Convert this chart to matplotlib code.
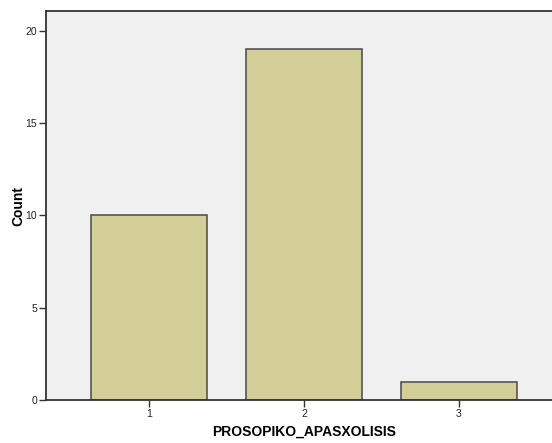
import matplotlib
matplotlib.use('Agg')
import matplotlib.pyplot as plt

categories = [1, 2, 3]
counts = [10, 19, 1]
tick_labels = ['1', '2', '3']
yticks = [0, 5, 10, 15, 20]

plt.rcParams['font.family'] = ['Liberation Sans', 'DejaVu Sans']

fig = plt.figure(figsize=(5.52, 4.43), dpi=100)
ax = fig.add_axes([46/552, 43/443, 516/552, 389/443])
ax.set_facecolor('#f0f0f0')

ax.bar(categories, counts, width=0.75, color='#d3ce97', edgecolor='#555555', linewidth=1.2)

ax.set_xlim(0.335, 3.665)
ax.set_ylim(0, 21.08)
ax.set_xticks(categories)
ax.set_xticklabels(tick_labels)
ax.set_yticks(yticks)
ax.tick_params(axis='both', labelsize=7.5, length=5, width=1, color='#333333', labelcolor='#222222', direction='out', pad=1.5)

for side in ['left', 'bottom', 'top']:
    ax.spines[side].set_color('#333333')
    ax.spines[side].set_linewidth(1.3)
ax.spines['right'].set_visible(False)

ax.set_ylabel('Count', fontsize=10, fontweight='bold')
ax.set_xlabel('PROSOPIKO_APASXOLISIS', fontsize=10, fontweight='bold')
ax.yaxis.set_label_coords(-0.054, 0.5)
ax.xaxis.set_label_coords(0.5, -0.082)
ax.xaxis.label.set_va('center')
ax.yaxis.label.set_va('center')

fig.savefig('out.png', dpi=100)
